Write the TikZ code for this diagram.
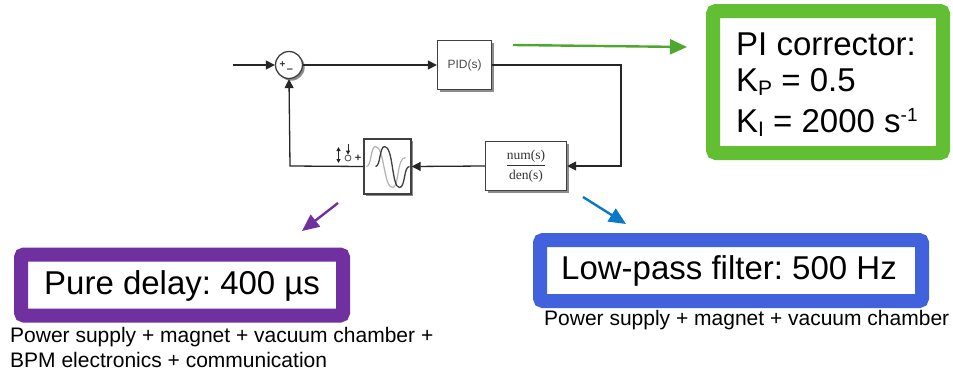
\documentclass[tikz,border=0pt]{standalone}
\usepackage{fontspec}
\setmainfont{Liberation Sans}
\newfontfamily\serifblk{Liberation Serif}
\usetikzlibrary{arrows.meta,shadows,calc}
\frenchspacing
\definecolor{cgreen}{HTML}{62BE32}
\definecolor{cpurple}{HTML}{7030A0}
\definecolor{cblue}{HTML}{4162DC}
\definecolor{agreen}{HTML}{4EA72E}
\definecolor{ablue}{HTML}{0A78C8}
\newcommand{\lsub}[1]{\raisebox{-4pt}{\fontsize{21}{21}\selectfont #1}}
\newcommand{\lsup}[1]{\raisebox{11pt}{\fontsize{19}{19}\selectfont #1}}
\tikzset{
  x=1pt,y=-1pt,
  sim/.style={draw=black!75,line width=1.3pt,fill=white,inner sep=0pt,
    drop shadow={shadow xshift=2.2pt,shadow yshift=-2.2pt,opacity=.45,fill=black}},
  wire/.style={draw=black!85,line width=1.3pt},
  wirea/.style={wire,-{Triangle[length=9pt,width=9pt]}},
  frame/.style={rounded corners=3pt,line width=14pt,fill=white,inner sep=0pt},
  call/.style={line width=2.4pt,-{Triangle[length=17pt,width=15pt]}},
  lab/.style={inner sep=0pt,anchor=west},
  big/.style={lab,font=\fontsize{33}{38}\selectfont},
  small/.style={lab,font=\fontsize{21}{25}\selectfont,align=left},
}
\begin{document}
\begin{tikzpicture}
\useasboundingbox (0,0) rectangle (953,372);
% blocks
\node[sim,circle,minimum size=27pt] (sum) at (289,65) {};
\node[font=\fontsize{10}{10}\selectfont\bfseries,text=black!80,inner sep=0pt] (plus) at (282.5,65) {+};
\node[font=\fontsize{11}{11}\selectfont\bfseries,text=black!80,inner sep=0pt] (minus) at (290,71) {–};
\node[sim,minimum width=54pt,minimum height=49pt] (pid) at (464.5,65) {};
\node[font=\fontsize{12}{12}\selectfont,text=black!70,inner sep=0pt] (pidt) at (464.5,65) {PID(s)};
\node[sim,minimum width=81pt,minimum height=49pt] (tf) at (526,166) {};
\node[font=\fontsize{13.5}{14}\selectfont\serifblk,text=black!80,inner sep=0pt,align=center] (tft) at (526,166) {$\displaystyle\frac{\hbox{num(s)}}{\hbox{den(s)}}$};
\node[sim,minimum width=47pt,minimum height=55pt] (delay) at (387.5,166.5) {};
\begin{scope}[shift={(delay.center)}]
\draw[black!30,line width=1.2pt] (-21,0) .. controls (-16,0) and (-17,-20) .. (-12,-20)
  .. controls (-3,-20) and (-4,21) .. (5,21) .. controls (12,21) and (9,-9) .. (18,-9);
\draw[black!75,line width=1.3pt] (-12,0) .. controls (-7,0) and (-8,-20) .. (-3,-20)
  .. controls (6,-20) and (4,21) .. (12,21) .. controls (18,21) and (16,0) .. (22,0);
\end{scope}
\node[font=\fontsize{11}{11}\selectfont\bfseries,text=black!80,inner sep=0pt] (dplus) at (358,158) {+};
\node[draw=black!70,circle,line width=.8pt,minimum size=6pt,inner sep=0pt] (dcirc) at (348,158) {};
\coordinate (dtop) at (348,144);
\draw[black!85,line width=1pt,-{Triangle[length=4pt,width=4pt]}] (dtop) -- (dcirc);
\coordinate (ua) at (338.5,147);
\coordinate (ub) at (338.5,163);
\draw[black!85,line width=1pt,{Triangle[length=4pt,width=4pt]}-{Triangle[length=4pt,width=4pt]}] (ua) -- (ub);
% wires
\coordinate (in) at (233,65);
\coordinate (c1) at (621,65);
\coordinate (c2) at (621,166);
\coordinate (c3) at (290,166);
\draw[wirea] (in) -- (sum.west);
\draw[wirea] (sum.east) -- (pid.west);
\draw[wirea] (pid.east) -- (c1) -- (c2) -- (tf.east);
\draw[wirea] (tf.west) -- (delay.east);
\draw[wirea] (delay.west) -- (c3) -- (sum.south);
% frames
\node[frame,draw=cgreen,minimum width=230pt,minimum height=142pt] (green) at (828,82) {};
\node[big] (g1) at (736,44) {PI corrector:};
\node[big] (g2) at (736,82) {K\lsub{P} = 0.5};
\node[big] (g3) at (736,122) {K\lsub{I} = 2000 s\lsup{-1}};
\node[frame,draw=cblue,minimum width=382pt,minimum height=61pt] (blue) at (731,270.5) {};
\node[big] (b1) at (561,271) {Low-pass filter: 500 Hz};
\node[frame,draw=cpurple,minimum width=322pt,minimum height=61pt] (purple) at (182,285) {};
\node[big] (p1) at (44,286) {Pure delay: 400 µs};
\node[small] (pn) at (10,347.5) {Power supply + magnet + vacuum chamber +\\BPM electronics + communication};
\node[small] (bn) at (544,320) {Power supply + magnet + vacuum chamber};
% callouts
\coordinate (ga) at (513,45);
\coordinate (gb) at (687,47);
\coordinate (ba) at (583,197);
\coordinate (bb) at (626,224);
\coordinate (pa) at (338,203);
\coordinate (pb) at (302,231);
\draw[call,agreen] (ga) -- (gb);
\draw[call,ablue] (ba) -- (bb);
\draw[call,cpurple] (pa) -- (pb);
\end{tikzpicture}
\end{document}
